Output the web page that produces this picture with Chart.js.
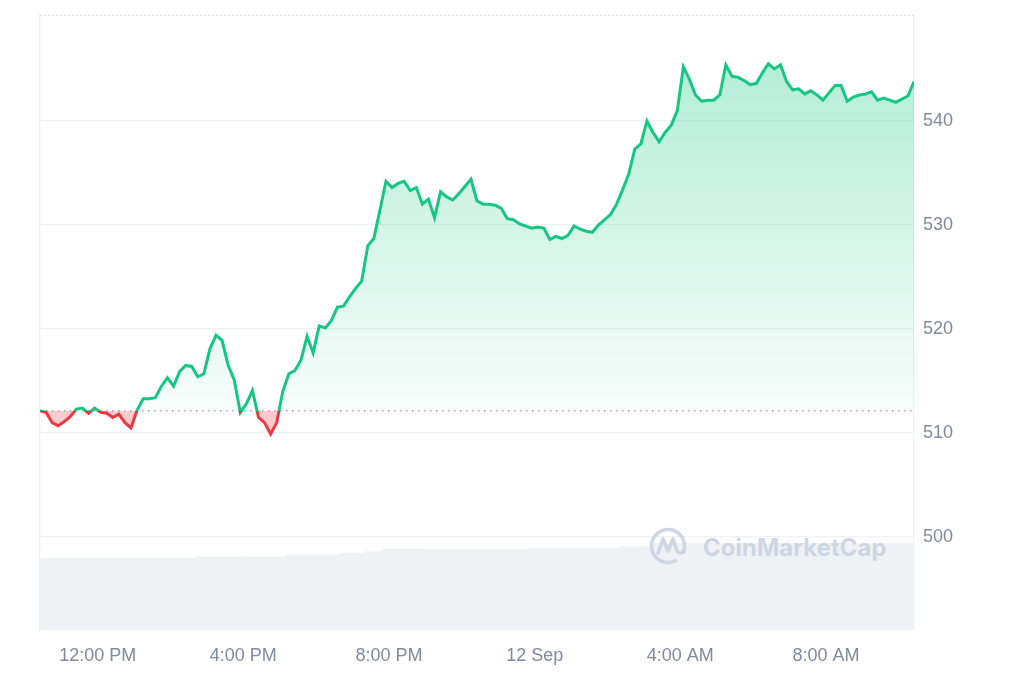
<!DOCTYPE html>
<html>
<head>
<meta charset="utf-8">
<script src="https://cdn.jsdelivr.net/npm/chart.js@4.4.1/dist/chart.umd.min.js"></script>
<style>
  html, body { margin: 0; padding: 0; background: #fff; }
  #wrap { width: 1024px; height: 683px; }
</style>
</head>
<body>
<div id="wrap"><canvas id="priceChart"></canvas></div>
<script>
// 10-minute samples starting 10:25 AM, 11 Sep
const stepMinutes = 10;
const price = [
  512.15, 512.0, 511.0, 510.7, 511.1, 511.6, 512.3, 512.4, 511.9, 512.4,
  512.0, 511.9, 511.5, 511.8, 511.0, 510.5, 512.2, 513.3, 513.3, 513.4,
  514.5, 515.3, 514.5, 515.9, 516.5, 516.4, 515.4, 515.7, 518.1, 519.4,
  518.9, 516.5, 515.1, 512.0, 512.8, 514.1, 511.5, 511.0, 509.9, 511.0,
  514.0, 515.7, 516.0, 517.0, 519.3, 517.7, 520.3, 520.1, 520.8, 522.1,
  522.2, 523.1, 523.9, 524.6, 528.0, 528.7, 531.4, 534.2, 533.6, 534.0,
  534.2, 533.3, 533.6, 532.0, 532.5, 530.7, 533.2, 532.7, 532.4, 533.0,
  533.7, 534.4, 532.3, 532.0, 532.0, 531.9, 531.6, 530.6, 530.5, 530.1,
  529.9, 529.7, 529.8, 529.7, 528.6, 528.9, 528.7, 529.0, 529.9, 529.6,
  529.4, 529.3, 530.0, 530.5, 531.0, 532.0, 533.4, 534.9, 537.3, 537.8,
  540.0, 538.9, 538.0, 538.9, 539.6, 541.0, 545.2, 544.0, 542.5, 541.9,
  542.0, 542.0, 542.5, 545.4, 544.3, 544.2, 543.9, 543.5, 543.6, 544.6,
  545.5, 545.0, 545.4, 543.8, 543.0, 543.1, 542.6, 542.9, 542.5, 542.0,
  542.7, 543.4, 543.4, 541.9, 542.3, 542.5, 542.6, 542.8, 542.0, 542.2,
  542.0, 541.8, 542.1, 542.4, 543.8
];
const volume = [
  11.65, 11.65, 11.65, 11.65, 11.65, 11.65, 11.65, 11.65, 11.65, 11.65,
  11.65, 11.65, 11.65, 11.65, 11.65, 11.65, 11.65, 11.65, 11.65, 11.65,
  11.65, 11.65, 11.65, 11.65, 11.65, 11.65, 11.9, 11.9, 11.9, 11.9,
  11.9, 11.9, 11.9, 11.9, 11.9, 11.9, 11.9, 11.9, 11.9, 11.9,
  11.9, 12.25, 12.25, 12.25, 12.25, 12.25, 12.25, 12.25, 12.25, 12.25,
  12.5, 12.5, 12.5, 12.5, 12.75, 12.75, 12.75, 13.15, 13.15, 13.15,
  13.15, 13.15, 13.15, 13.15, 13.1, 13.1, 13.1, 13.1, 13.1, 13.1,
  13.1, 13.1, 13.1, 13.1, 13.1, 13.1, 13.1, 13.1, 13.1, 13.1,
  13.1, 13.3, 13.3, 13.3, 13.3, 13.3, 13.3, 13.3, 13.3, 13.3,
  13.3, 13.3, 13.3, 13.3, 13.3, 13.3, 13.55, 13.55, 13.55, 13.55,
  13.55, 14.1, 14.1, 14.1, 14.1, 14.1, 14.1, 14.1, 14.1, 14.1,
  14.1, 14.1, 14.1, 14.1, 14.1, 14.1, 14.1, 14.1, 14.1, 14.1,
  14.1, 14.1, 14.1, 14.1, 14.1, 14.1, 14.1, 14.1, 14.1, 14.1,
  14.1, 14.1, 14.1, 14.1, 14.1, 14.1, 14.1, 14.1, 14.1, 14.1,
  14.1, 14.1, 14.1, 14.1, 14.1
];
const baseline = 512.15;
const xTickMinutes = [95, 335, 575, 815, 1055, 1295];
const xTickLabels = ['12:00 PM', '4:00 PM', '8:00 PM', '12 Sep', '4:00 AM', '8:00 AM'];
const yTicks = [500, 510, 520, 530, 540];

const GREEN = '#16c784';
const RED = '#ea3943';
const GRID = '#eef1f5';
const TICK = '#808a9d';

const times = price.map((_, i) => i * stepMinutes);
const pricePoints = price.map((v, i) => ({ x: times[i], y: v }));
const volumePoints = volume.map((v, i) => ({ x: times[i], y: v }));
const lastMinute = times[times.length - 1];

function lineColor(context) {
  const chart = context.chart;
  const area = chart.chartArea;
  if (!area) return GREEN;
  const yb = chart.scales.y.getPixelForValue(baseline);
  const s = Math.min(1, Math.max(0, (yb - area.top) / (area.bottom - area.top)));
  const g = chart.ctx.createLinearGradient(0, area.top, 0, area.bottom);
  g.addColorStop(0, GREEN);
  g.addColorStop(s, GREEN);
  g.addColorStop(s, RED);
  g.addColorStop(1, RED);
  return g;
}

function fillColor(context) {
  const chart = context.chart;
  const area = chart.chartArea;
  if (!area) return 'rgba(22,199,132,0.2)';
  const yb = chart.scales.y.getPixelForValue(baseline);
  const g = chart.ctx.createLinearGradient(0, area.top, 0, yb);
  g.addColorStop(0, 'rgba(22,199,132,0.36)');
  g.addColorStop(1, 'rgba(22,199,132,0.03)');
  return g;
}

const watermark = {
  id: 'watermark',
  afterDatasetsDraw(chart) {
    const c = chart.ctx;
    const area = chart.chartArea;
    c.save();
    // dotted top edge of the plot
    c.strokeStyle = '#dfe4ec';
    c.lineWidth = 1;
    c.setLineDash([2, 2]);
    c.beginPath();
    c.moveTo(area.left, area.top + 0.5);
    c.lineTo(area.right, area.top + 0.5);
    c.stroke();
    c.setLineDash([]);

    // logo
    const col = 'rgba(203,211,226,0.95)';
    c.strokeStyle = col;
    c.fillStyle = col;
    c.lineWidth = 3.6;
    c.lineCap = 'round';
    c.lineJoin = 'round';
    const cx = 668, cy = 546;
    c.beginPath();
    c.arc(cx, cy, 16.5, 0.35 * Math.PI, 2.12 * Math.PI);
    c.stroke();
    c.beginPath();
    c.moveTo(cx - 10, cy + 7);
    c.lineTo(cx - 5, cy - 7);
    c.lineTo(cx, cy + 5);
    c.lineTo(cx + 5, cy - 7);
    c.lineTo(cx + 9, cy + 5);
    c.quadraticCurveTo(cx + 12, cy + 9, cx + 16, cy + 5);
    c.stroke();

    // wordmark
    c.font = 'bold 25px Inter';
    const w = c.measureText('CoinMarketCap').width;
    const size = 25 * 184 / w;
    c.font = 'bold ' + size.toFixed(1) + 'px Inter';
    c.textBaseline = 'alphabetic';
    c.fillText('CoinMarketCap', 703, 556);
    c.restore();
  }
};

new Chart(document.getElementById('priceChart'), {
  type: 'line',
  data: {
    datasets: [
      {
        label: 'Price',
        data: pricePoints,
        yAxisID: 'y',
        borderColor: lineColor,
        backgroundColor: fillColor,
        borderWidth: 3,
        pointRadius: 0,
        tension: 0,
        fill: { target: { value: baseline }, below: 'rgba(234,57,67,0.26)' },
        order: 0
      },
      {
        label: 'Open',
        data: [{ x: 0, y: baseline }, { x: lastMinute, y: baseline }],
        yAxisID: 'y',
        borderColor: '#a7afc0',
        borderWidth: 1.5,
        borderDash: [1.5, 4.5],
        pointRadius: 0,
        fill: false,
        order: 1
      },
      {
        type: 'bar',
        label: 'Volume',
        data: volumePoints,
        yAxisID: 'yVol',
        backgroundColor: '#eff2f5',
        borderWidth: 0,
        barPercentage: 1,
        categoryPercentage: 1,
        order: 2
      }
    ]
  },
  options: {
    responsive: true,
    maintainAspectRatio: false,
    animation: false,
    layout: { padding: { left: 40, top: 15, right: 0, bottom: 0 } },
    plugins: {
      legend: { display: false },
      tooltip: { enabled: false }
    },
    scales: {
      x: {
        type: 'linear',
        min: 0,
        max: lastMinute,
        offset: false,
        grid: { display: false, drawTicks: false },
        border: { display: false },
        afterBuildTicks: s => { s.ticks = xTickMinutes.map(v => ({ value: v })); },
        afterFit: s => { s.height = 53; s.paddingLeft = 0; s.paddingRight = 0; },
        ticks: {
          autoSkip: false,
          maxRotation: 0,
          padding: 15,
          color: TICK,
          font: { family: '"Liberation Sans", Arial, sans-serif', size: 18 },
          callback: v => xTickLabels[xTickMinutes.indexOf(v)]
        }
      },
      y: {
        position: 'right',
        min: 491.06,
        max: 550.19,
        grid: { color: GRID, lineWidth: 1.3, drawTicks: false },
        border: { display: true, color: GRID, width: 1.3 },
        afterBuildTicks: s => { s.ticks = yTicks.map(v => ({ value: v })); },
        afterFit: s => { s.width = 110; s.paddingTop = 0; s.paddingBottom = 0; },
        ticks: {
          padding: 9,
          color: TICK,
          font: { family: '"Liberation Sans", Arial, sans-serif', size: 18 }
        }
      },
      yVol: {
        position: 'left',
        min: 0,
        max: 100,
        grid: { display: false, drawTicks: false },
        border: { display: true, color: GRID, width: 1.3 },
        ticks: { display: false },
        afterFit: s => { s.width = 0; s.paddingTop = 0; s.paddingBottom = 0; }
      }
    }
  },
  plugins: [watermark]
});
</script>
</body>
</html>
